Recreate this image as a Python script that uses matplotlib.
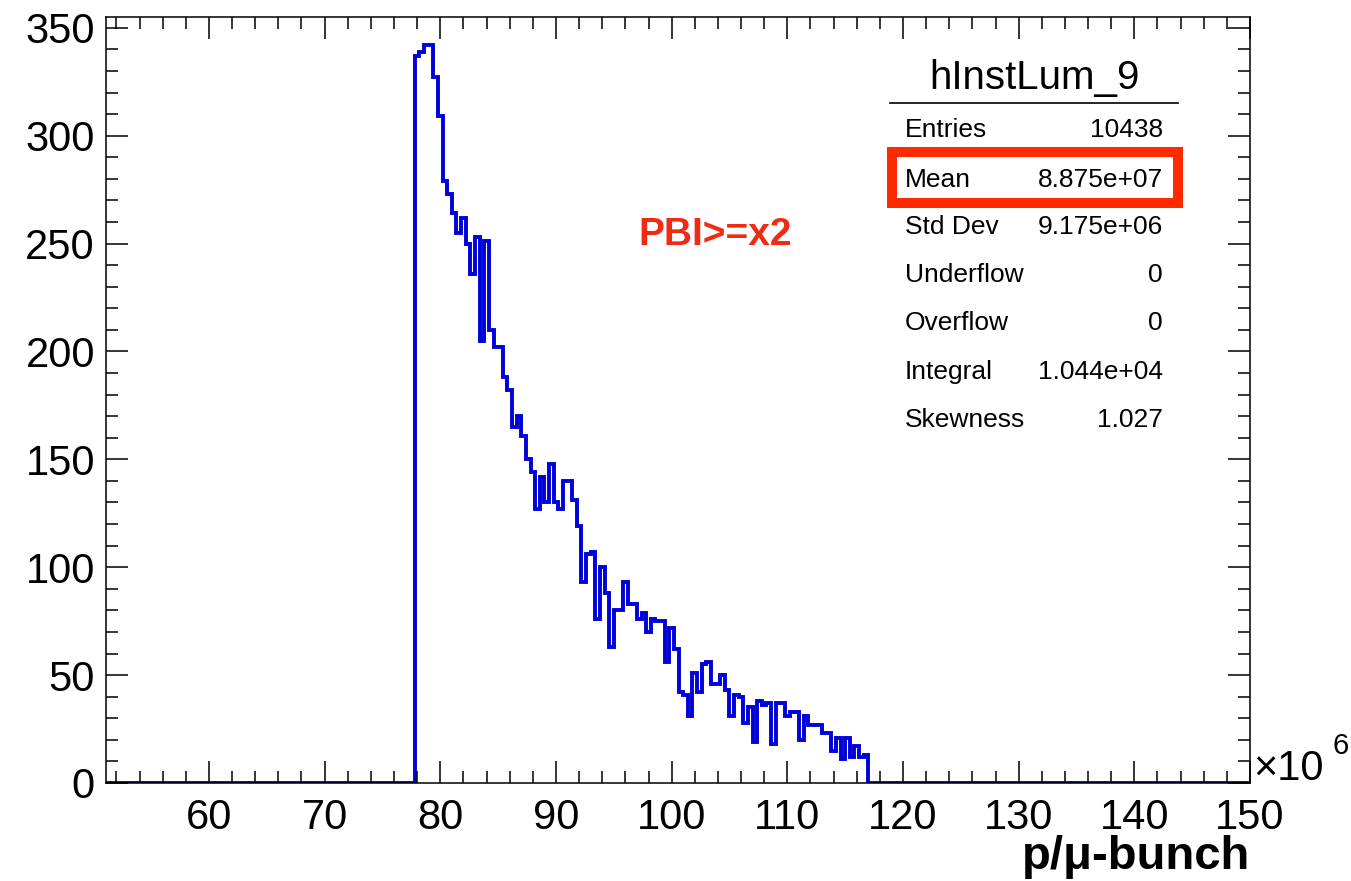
import numpy as np
import matplotlib
matplotlib.use("Agg")
import matplotlib.pyplot as plt
from matplotlib.patches import Rectangle
from matplotlib.ticker import MultipleLocator

# histogram contents (units of 1e6 p/mu-bunch)
first_edge = 77.8
bin_width = 0.4
counts = [337, 339, 342, 342, 327, 309, 279, 273, 264, 255,
          262, 250, 236, 253, 205, 251, 210, 202, 202, 188,
          182, 165, 170, 161, 150, 144, 127, 142, 130, 148,
          130, 127, 140, 140, 131, 119, 93, 106, 107, 76,
          100, 88, 63, 80, 80, 93, 83, 83, 76, 79,
          70, 76, 75, 75, 56, 72, 62, 42, 41, 31,
          51, 42, 55, 56, 46, 46, 50, 43, 31, 41,
          40, 28, 35, 19, 38, 36, 37, 18, 37, 37,
          31, 33, 33, 20, 31, 27, 27, 27, 23, 23,
          15, 21, 11, 21, 12, 17, 12, 13]

x_range = (51.1, 150)
y_range = (0, 355)

hist_name = "hInstLum_9"
stat_names = ["Entries", "Mean", "Std Dev", "Underflow", "Overflow", "Integral", "Skewness"]
stat_values = ["10438", "8.875e+07", "9.175e+06", "0", "0", "1.044e+04", "1.027"]
note = "PBI>=x2"
xlabel = "p/\u03bc-bunch"

plt.rcParams['font.family'] = ['Liberation Sans', 'DejaVu Sans']

W, H = 1351, 881
fig = plt.figure(figsize=(W / 100, H / 100), dpi=100)
ax = fig.add_axes([106 / W, 1 - 783 / H, (1250 - 106) / W, (783 - 17) / H])

# pad with empty bins so the line runs along zero over the whole axis
n_lead = int(round((first_edge - 51.0) / bin_width))
n_tail = int(round((150.2 - first_edge) / bin_width)) - len(counts)
vals = np.concatenate([np.zeros(n_lead), counts, np.zeros(n_tail)])
edges = first_edge - n_lead * bin_width + bin_width * np.arange(len(vals) + 1)
ax.stairs(vals, edges, baseline=None, color='#0000d8', lw=2.8)

ax.set_xlim(*x_range)
ax.set_ylim(*y_range)
ax.xaxis.set_major_locator(MultipleLocator(10))
ax.xaxis.set_minor_locator(MultipleLocator(2))
ax.yaxis.set_major_locator(MultipleLocator(50))
ax.yaxis.set_minor_locator(MultipleLocator(10))
ax.tick_params(which='both', direction='in', top=True, right=True, width=1.1)
ax.tick_params(which='major', length=16)
ax.tick_params(which='minor', length=8.5)
ax.tick_params(axis='x', labelsize=30, pad=11)
ax.tick_params(axis='y', labelsize=30, pad=8)
for s in ax.spines.values():
    s.set_linewidth(1.1)

# exponent label
ax.text(1.003, -0.008, "\u00d710", transform=ax.transAxes, fontsize=30,
        ha='left', va='bottom')
ax.text(1.072, 0.03, "6", transform=ax.transAxes, fontsize=21,
        ha='left', va='bottom')

ax.text(1.0, -0.097, xlabel, transform=ax.transAxes, fontsize=34,
        fontweight='bold', ha='right', va='center')

# stats box
fig.text(1034 / W, 1 - 78 / H, hist_name, fontsize=29, ha='center', va='center')
fig.add_artist(plt.Line2D([890 / W, 1178 / W], [1 - 103 / H, 1 - 103 / H],
                          color='black', lw=1.2))
row_y = [130, 180, 227, 275, 323, 372, 420]
for name, val, yy in zip(stat_names, stat_values, row_y):
    fig.text(905 / W, 1 - yy / H, name, fontsize=19, ha='left', va='center')
    fig.text(1163 / W, 1 - yy / H, val, fontsize=19, ha='right', va='center')

fig.add_artist(Rectangle((892 / W, 1 - 202.5 / H), 286 / W, 50 / H,
                         transform=fig.transFigure, fill=False,
                         edgecolor='#ff2a00', lw=7.2))

fig.text(715 / W, 1 - 235 / H, note, fontsize=28, fontweight='bold',
         color='#f02b14', ha='center', va='center')

fig.savefig("out.png", dpi=100)
